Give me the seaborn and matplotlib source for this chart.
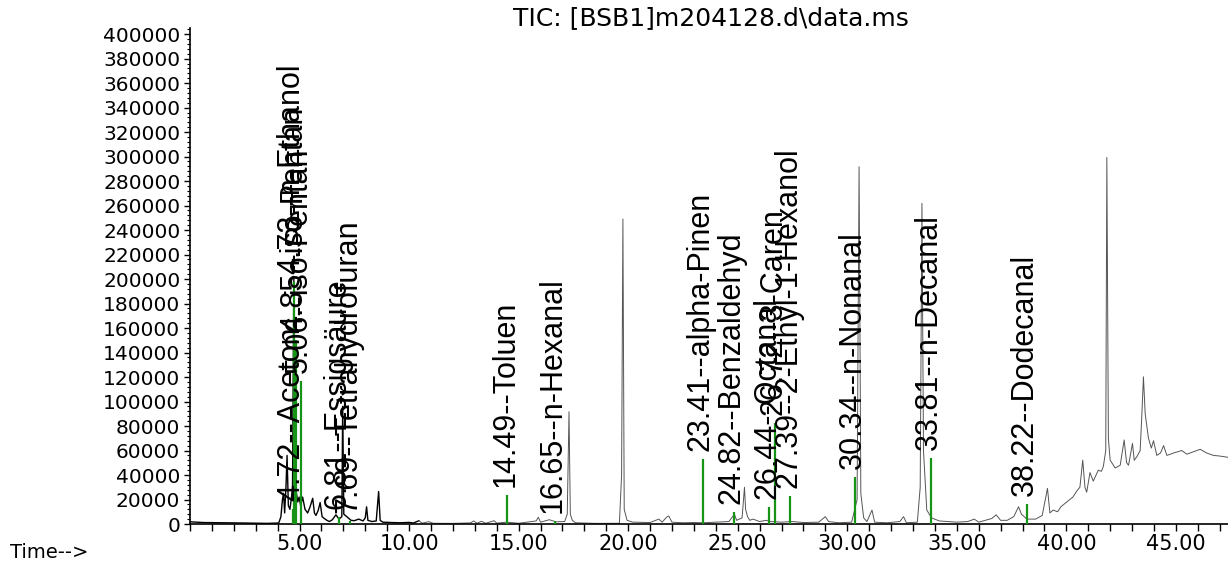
import numpy as np
import pandas as pd
import matplotlib
matplotlib.use("Agg")
from matplotlib import pyplot as plt
from matplotlib.ticker import MultipleLocator, FixedLocator, FormatStrFormatter
import seaborn as sns

# TIC trace (min, abundance)
trace_t = [0.00, 0.30, 0.60, 1.50, 2.50, 3.50, 4.05, 4.15, 4.22, 4.27, 4.32, 4.38, 4.43, 4.49,
           4.56, 4.62, 4.68, 4.74, 4.80, 4.86, 4.92, 4.98, 5.05, 5.14, 5.25, 5.37, 5.48, 5.60,
           5.68, 5.75, 5.85, 5.94, 6.03, 6.13, 6.25, 6.36, 6.50, 6.66, 6.80, 6.93, 6.97, 7.02,
           7.19, 7.35, 7.50, 7.70, 7.90, 8.00, 8.06, 8.12, 8.30, 8.50, 8.61, 8.68, 8.80, 9.20,
           9.60, 10.00, 10.20, 10.45, 10.60, 10.90, 11.10, 12.00, 12.80, 12.95, 13.10, 13.30,
           13.50, 13.88, 14.00, 14.45, 15.00, 15.80, 15.90, 16.00, 16.40, 16.70, 17.10, 17.22,
           17.30, 17.36, 17.45, 17.60, 18.50, 19.60, 19.70, 19.76, 19.82, 19.95, 20.20, 21.00,
           21.40, 21.55, 21.75, 21.85, 22.00, 22.50, 23.00, 23.40, 24.00, 24.60, 24.85, 24.95,
           25.20, 25.31, 25.36, 25.45, 25.55, 25.70, 26.00, 26.30, 26.50, 27.00, 27.50, 28.00,
           28.70, 29.00, 29.15, 29.60, 30.20, 30.45, 30.54, 30.62, 30.75, 30.90, 31.13, 31.25,
           31.80, 32.40, 32.57, 32.70, 33.20, 33.33, 33.41, 33.48, 33.63, 33.85, 34.20, 35.00,
           35.50, 35.80, 36.00, 36.60, 36.80, 37.00, 37.30, 37.60, 37.82, 37.95, 38.20, 38.60,
           38.90, 39.14, 39.25, 39.40, 39.60, 39.75, 40.02, 40.30, 40.48, 40.62, 40.75, 40.85,
           40.93, 41.08, 41.23, 41.46, 41.60, 41.69, 41.80, 41.85, 41.92, 42.00, 42.23, 42.46,
           42.64, 42.75, 42.84, 43.02, 43.10, 43.22, 43.37, 43.45, 43.52, 43.60, 43.75, 43.88,
           43.98, 44.13, 44.30, 44.44, 44.59, 44.90, 45.27, 45.50, 45.96, 46.11, 46.40, 46.72,
           47.00, 47.40]
trace_i = [1800, 1500, 1200, 1000, 800, 500, 800, 6000, 20000, 25000, 9000, 30000, 56000, 15000,
           12000, 20000, 30000, 200000, 40000, 25000, 18000, 22000, 15000, 22000, 12000, 9000, 14000, 21000,
           9000, 7000, 11000, 17500, 6000, 4500, 3000, 2000, 3500, 7500, 4000, 6000, 96000, 8000,
           5500, 3000, 2700, 4000, 2500, 5000, 14000, 3000, 2000, 2500, 26500, 3000, 1500, 1200,
           1000, 1300, 800, 2700, 700, 1900, 600, 500, 900, 2500, 600, 2200,
           600, 2700, 700, 1500, 600, 2500, 5500, 1500, 3500, 1800, 2000, 8000,
           91700, 8000, 3000, 1000, 500, 600, 40000, 249000, 12000, 3000, 1500, 1200,
           4000, 1500, 5500, 6600, 1500, 1000, 1200, 1000, 1500, 2000, 8000, 3000,
           5000, 30000, 12000, 6000, 3000, 4000, 2000, 3000, 2000, 1500, 2000, 1200,
           1500, 6000, 2000, 1000, 1500, 20000, 291700, 25000, 5000, 2000, 11400, 1500,
           1000, 2000, 6000, 1000, 1500, 30000, 261800, 60000, 11400, 5000, 2500, 1500,
           2000, 4000, 1500, 4500, 7500, 3000, 3000, 6000, 14100, 8000, 4000, 4000,
           7000, 29100, 9000, 11400, 10000, 14000, 18000, 22000, 27000, 30000, 52200, 30000,
           26000, 42000, 35000, 44000, 43000, 47000, 60000, 299300, 70000, 52200, 45700, 48000,
           68600, 50000, 48000, 65800, 52000, 55000, 60000, 90000, 120200, 90000, 70000, 62000,
           68000, 56000, 58000, 64000, 56000, 58000, 60000, 57000, 60000, 61000, 58000, 56000,
           55500, 54400]

# library hits: retention time, marker height, label
hit_t = [4.72, 4.73, 4.85, 5.06, 6.81, 7.30, 14.49, 16.65, 23.41, 24.82, 26.44, 26.72, 27.39,
         30.34, 33.81, 38.22]
hit_h = [12000, 198000, 150000, 117000, 6000, 2700, 23700, 2700, 53000, 10000, 14100, 82200, 22800,
         38600, 53600, 16000]
hit_lbl = ["4.72--Aceton", "4.73--n-Ethanol", "4.85--iso-Pentan", "5.06--iso-Pentan",
           "6.81--Essigsäure", "7.69--Tetrahydrofuran", "14.49--Toluen", "16.65--n-Hexanal",
           "23.41--alpha-Pinen", "24.82--Benzaldehyd", "26.44--Octanal", "26.72--3-Caren",
           "27.39--2-Ethyl-1-Hexanol", "30.34--n-Nonanal", "33.81--n-Decanal", "38.22--Dodecanal"]

sns.set_theme(style="white")
plt.rcParams['font.family'] = ['DejaVu Sans']

df = pd.DataFrame({"Time": trace_t, "Abundance": trace_i})
early = df[df["Time"] <= 10.5]
late = df[df["Time"] >= 10.45]

fig = plt.figure(figsize=(12.28, 5.62), dpi=100)
ax = fig.add_axes([190/1228, 1-524/562, 1-190/1228, 496/562])

# early part is drawn heavier in the original, the rest thin grey
sns.lineplot(data=early, x="Time", y="Abundance", ax=ax, color="black", lw=1.0,
             estimator=None, sort=False)
sns.lineplot(data=late, x="Time", y="Abundance", ax=ax, color="#555555", lw=0.7,
             estimator=None, sort=False)
ax.vlines(hit_t, 0, hit_h, color="#179317", lw=1.6, zorder=3)

for t, h, s in zip(hit_t, hit_h, hit_lbl):
    ax.annotate(s, (t, h), xytext=(-2, 8), textcoords="offset pixels", rotation=90,
                ha="center", va="bottom", fontsize=22, family="Liberation Sans",
                color="black", annotation_clip=False)

ax.set_xlim(0, 47.38)
ax.set_ylim(0, 405000)
ax.set_xlabel("")
ax.set_ylabel("")

ax.xaxis.set_major_locator(FixedLocator([5, 10, 15, 20, 25, 30, 35, 40, 45]))
ax.xaxis.set_major_formatter(FormatStrFormatter("%.2f"))
ax.xaxis.set_minor_locator(MultipleLocator(1))
ax.yaxis.set_major_locator(MultipleLocator(20000))
ax.yaxis.set_major_formatter(FormatStrFormatter("%d"))
ax.yaxis.set_minor_locator(MultipleLocator(4000))

ax.tick_params(axis="x", which="both", direction="out", length=5, width=1, pad=2,
               labelsize=15, bottom=True, colors="black")
ax.tick_params(axis="y", which="major", direction="out", length=4, width=1, pad=3,
               labelsize=14.5, left=True, colors="black")
ax.tick_params(axis="y", which="minor", direction="out", length=2, width=0.8, left=True,
               colors="black")

for side in ["top", "right"]:
    ax.spines[side].set_visible(False)
for side in ["left", "bottom"]:
    ax.spines[side].set_color("black")
    ax.spines[side].set_linewidth(1.2)

fig.text(711/1228, 1-18/562, "TIC: [BSB1]m204128.d\\data.ms", ha="center", va="center",
         fontsize=18, color="black")
fig.text(10/1228, 1-553/562, "Time-->", ha="left", va="center", fontsize=14, color="black")

fig.savefig("out.png", dpi=100)
